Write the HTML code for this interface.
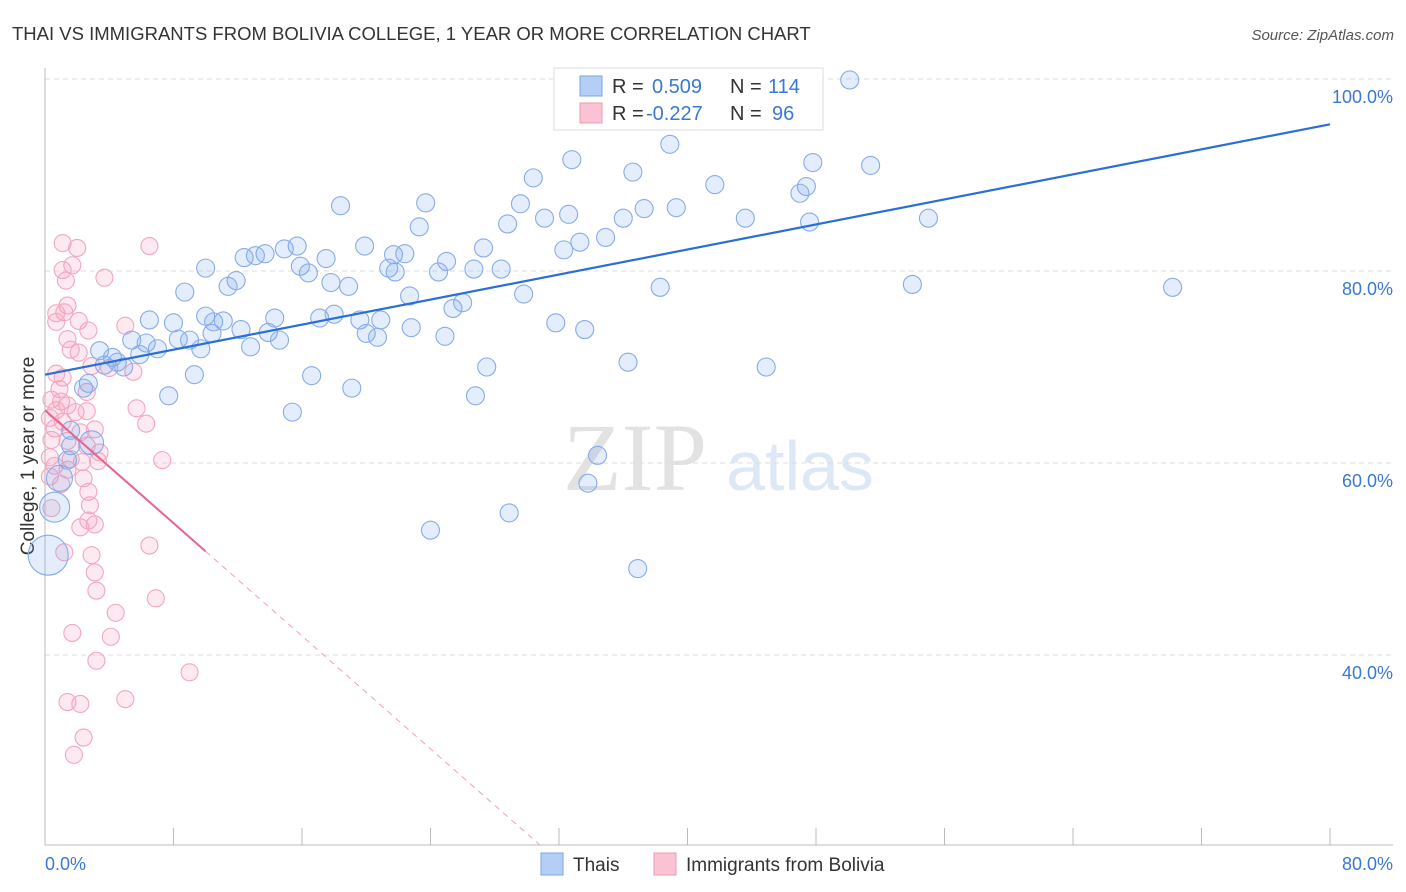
<!DOCTYPE html>
<html><head><meta charset="utf-8"><style>
body{margin:0;background:#fff;font-family:"Liberation Sans",sans-serif;}
svg{display:block}
</style></head><body>
<svg id="chart" width="1406" height="892">
<text x="12" y="40" font-size="18.5" fill="#333">THAI VS IMMIGRANTS FROM BOLIVIA COLLEGE, 1 YEAR OR MORE CORRELATION CHART</text>
<text x="1394" y="40" font-size="15" fill="#555" font-style="italic" text-anchor="end">Source: ZipAtlas.com</text>
<text x="34" y="456" font-size="19" fill="#333" text-anchor="middle" transform="rotate(-90 34 456)">College, 1 year or more</text>
<g>
<text x="635" y="490" font-size="96" fill="#e2e2e2" font-family="Liberation Serif,serif" text-anchor="middle">ZIP</text>
<text x="800" y="490" font-size="70" fill="#dde8f6" text-anchor="middle">atlas</text>
</g>
<g id="grid"></g>
<g id="axes"></g>
<g id="pts"></g>
<g id="trend"></g>
<g>
<rect x="554" y="68" width="269" height="62" fill="#fff" stroke="#ddd"/>
<rect x="580" y="76" width="22" height="20" fill="#b3cff5" stroke="#7aa5e6"/>
<rect x="580" y="103" width="22" height="20" fill="#f9c3d3" stroke="#ee9ab4"/>
<text x="612" y="93" font-size="20" fill="#333">R = </text><text x="652" y="93" font-size="20" fill="#3a78d4">0.509</text>
<text x="730" y="93" font-size="20" fill="#333">N = </text><text x="768" y="93" font-size="20" fill="#3a78d4">114</text>
<text x="612" y="120" font-size="20" fill="#333">R = </text><text x="646" y="120" font-size="20" fill="#3a78d4">-0.227</text>
<text x="730" y="120" font-size="20" fill="#333">N = </text><text x="772" y="120" font-size="20" fill="#3a78d4">96</text>
</g>
<g>
<rect x="541" y="853" width="22" height="22" fill="#b3cff5" stroke="#7aa5e6"/>
<text x="573" y="871" font-size="19" fill="#333">Thais</text>
<rect x="654" y="853" width="22" height="22" fill="#f9c3d3" stroke="#ee9ab4"/>
<text x="686" y="871" font-size="19" fill="#333">Immigrants from Bolivia</text>
</g>
</svg>
<script>
const yTicks=[40,60,80,100];
const yTickLabels=["40.0%","60.0%","80.0%","100.0%"];
const xTicks=[0,8,16,24,32,40,48,56,64,72,80];
const blueX=[50.1,38.9,32.8,36.6,30.4,41.7,47.8,51.4,47.4,47.0,18.4,23.7,29.6,37.3,39.3,32.6,31.1,36.0,43.6,47.6,55.0,23.3,28.8,34.9,33.3,32.3,19.9,27.3,15.7,14.9,13.7,13.1,12.4,17.5,22.4,21.7,25.0,15.9,16.4,21.4,21.8,24.5,26.7,28.4,10.0,11.9,11.4,17.8,18.9,8.7,22.7,29.8,38.3,54.0,70.2,25.4,26.0,6.5,8.0,10.0,10.5,11.1,14.3,17.1,18.0,19.6,20.9,31.8,13.9,12.2,10.4,20.0,22.8,24.9,20.7,33.6,5.4,6.3,8.3,9.0,14.6,12.8,9.7,7.0,3.4,4.2,5.9,3.7,4.5,4.9,36.3,44.9,27.5,9.3,16.6,2.7,2.4,19.1,7.7,26.8,15.4,1.6,2.9,1.6,34.4,1.4,33.8,0.9,0.6,24.0,28.9,0.2,36.9];
const blueY=[99.9,93.2,91.6,90.3,89.7,89.0,91.3,91.0,88.8,88.1,86.8,87.1,87.0,86.5,86.6,85.9,85.5,85.5,85.5,85.1,85.5,84.6,84.9,83.5,83.0,82.2,82.6,82.4,82.6,82.3,81.8,81.6,81.4,81.3,81.8,81.7,81.0,80.5,79.8,80.3,79.9,79.9,80.2,80.2,80.3,79.0,78.4,78.8,78.4,77.8,77.4,77.6,78.3,78.6,78.3,76.1,76.7,74.9,74.6,75.3,74.7,74.8,75.1,75.1,75.5,74.9,74.9,74.6,73.6,73.9,73.5,73.5,74.1,73.2,73.1,73.9,72.8,72.5,72.9,72.8,72.8,72.1,71.9,71.9,71.7,71.0,71.3,70.2,70.5,70.0,70.5,70.0,70.0,69.2,69.1,68.3,67.8,67.8,67.0,67.0,65.3,63.4,62.1,61.8,60.8,60.3,57.9,58.4,55.4,53.0,54.8,50.4,49.0];
const pinkX=[1.1,6.5,2.0,1.1,1.7,3.7,1.3,1.4,0.7,1.2,0.7,2.1,5.0,2.7,1.4,1.6,2.1,2.9,5.5,4.0,0.7,1.1,0.9,2.6,0.4,1.0,1.4,0.7,5.7,1.9,2.6,0.3,1.1,6.3,0.6,3.1,2.2,0.4,1.4,2.6,3.4,0.3,1.6,2.3,3.3,7.3,0.6,1.4,0.3,2.4,1.0,2.7,2.8,0.4,2.7,3.1,2.2,6.5,1.2,2.9,3.1,3.2,6.9,4.4,4.1,1.7,3.2,9.0,1.4,2.2,5.0,2.4,1.8];
const pinkY=[82.9,82.6,82.4,80.1,80.6,79.3,79.0,76.4,75.6,75.7,74.7,74.8,74.3,73.8,72.9,71.8,71.5,70.1,69.5,69.9,69.3,68.9,67.7,67.4,66.6,66.4,66.0,65.5,65.7,65.3,65.4,64.7,64.3,64.1,63.6,63.5,63.2,62.4,62.3,61.8,61.1,60.6,60.4,60.1,60.2,60.3,59.7,59.3,58.6,58.4,57.8,57.0,55.6,55.3,54.0,53.6,53.3,51.4,50.7,50.4,48.6,46.7,45.9,44.4,41.9,42.3,39.4,38.2,35.1,34.9,35.4,31.4,29.6];
const blueTrend=[69.2,0.326];
const pinkTrend=[65.5,-1.47];
const pinkSolidEnd=10;
const bigBlue={"2.9":12,"0.9":13,"0.6":15,"0.2":20};

const NS="http://www.w3.org/2000/svg";
const X0=45,X1=1330,YB=845;
const sx=v=>X0+v/80*(X1-X0);
const sy=v=>271-(v-80)*9.6;
function mk(tag,attrs,parent){const e=document.createElementNS(NS,tag);for(const k in attrs)e.setAttribute(k,attrs[k]);parent.appendChild(e);return e;}
const grid=document.getElementById('grid'),axes=document.getElementById('axes'),pts=document.getElementById('pts'),trend=document.getElementById('trend');
yTicks.forEach((t,i)=>{
 const l=mk('line',{x1:X0,x2:1393,y1:sy(t),y2:sy(t),stroke:'#ddd','stroke-dasharray':'5,4'},grid);
 
 
 const tx=mk('text',{x:1393,y:sy(t)+24,'font-size':18,fill:'#3a78d4','text-anchor':'end'},grid);
 tx.textContent=yTickLabels[i];
 
 
});
const ya=mk('line',{x1:X0,x2:X0,y1:68,y2:YB,stroke:'#bbb'},axes);


const xa=mk('line',{x1:X0,x2:1393,y1:YB,y2:YB,stroke:'#bbb'},axes);


xTicks.forEach(t=>{
 const l=mk('line',{x1:sx(t),x2:sx(t),y1:828,y2:YB,stroke:'#bbb'},axes);
 
 
});
const xl0=mk('text',{x:45,y:870,'font-size':18,fill:'#3a78d4'},axes);xl0.textContent='0.0%';


const xl1=mk('text',{x:1393,y:870,'font-size':18,fill:'#3a78d4','text-anchor':'end'},axes);xl1.textContent='80.0%';


pinkX.forEach((x,i)=>{
 const c=mk('circle',{cx:sx(x),cy:sy(pinkY[i]),r:8.5,fill:'rgba(244,160,190,0.22)',stroke:'#f3a6bf','stroke-width':1.1},pts);
 
 
});
blueX.forEach((x,i)=>{
 let r=9;if(i>=blueX.length-12&&bigBlue[String(x)]&&blueY[i]<63)r=bigBlue[String(x)];
 const c=mk('circle',{cx:sx(x),cy:sy(blueY[i]),r:r,fill:'rgba(120,165,235,0.2)',stroke:'#86acea','stroke-width':1.1},pts);
 
 
});
const bt=mk('line',{x1:sx(0),y1:sy(blueTrend[0]),x2:sx(80),y2:sy(blueTrend[0]+80*blueTrend[1]),stroke:'#2a6fd6','stroke-width':2.2},trend);


const pt=mk('line',{x1:sx(0),y1:sy(pinkTrend[0]),x2:sx(pinkSolidEnd),y2:sy(pinkTrend[0]+pinkSolidEnd*pinkTrend[1]),stroke:'#e8648e','stroke-width':2},trend);


const yEnd=(YB-271)/-9.6+80;const xEnd=(yEnd-pinkTrend[0])/pinkTrend[1];
const pd=mk('line',{x1:sx(pinkSolidEnd),y1:sy(pinkTrend[0]+pinkSolidEnd*pinkTrend[1]),x2:sx(xEnd),y2:sy(yEnd),stroke:'#f0a0b8','stroke-width':1,'stroke-dasharray':'6,5'},trend);


</script>
</body></html>
